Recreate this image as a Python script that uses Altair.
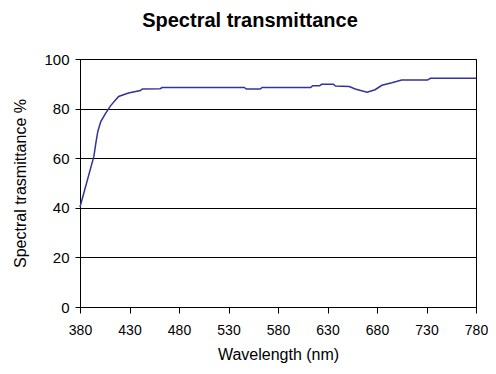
import altair as alt
import pandas as pd

wavelength = [380, 394, 396, 398, 401, 406, 411, 419, 429, 441, 443, 461, 463,
              546, 548, 562, 564, 613, 615, 622, 624, 636, 638, 652, 658, 670,
              678, 685, 695, 705, 731, 734, 780]
transmittance = [40.3, 60.7, 66.1, 70.8, 74.8, 78.2, 81.2, 84.9, 86.3, 87.3, 87.9, 88.0, 88.5,
                 88.5, 87.9, 87.9, 88.5, 88.5, 89.2, 89.2, 89.8, 89.8, 89.1, 88.9, 87.9, 86.6,
                 87.6, 89.4, 90.4, 91.5, 91.5, 92.2, 92.2]
x_ticks = [380, 430, 480, 530, 580, 630, 680, 730, 780]
y_ticks = [0, 20, 40, 60, 80, 100]

df = pd.DataFrame({"wl": wavelength, "t": transmittance})

font = "Liberation Sans"

chart = alt.Chart(df).mark_line(color="#333399", strokeWidth=1.5, interpolate="linear").encode(
    x=alt.X("wl:Q", scale=alt.Scale(domain=[380, 780], nice=False, zero=False),
            axis=alt.Axis(values=x_ticks, title="Wavelength (nm)", grid=False,
                          tickSize=6, labelPadding=10, titlePadding=9,
                          labelFontSize=14,
                          labelFlush=False, labelOverlap=False)),
    y=alt.Y("t:Q", scale=alt.Scale(domain=[0, 100], nice=False),
            axis=alt.Axis(values=y_ticks, title="Spectral trasmittance %", grid=True,
                          tickSize=5, labelPadding=6, titlePadding=15)),
).properties(
    width=396, height=248,
    autosize=alt.AutoSizeParams(type="none"),
    padding={"left": 72, "top": 51, "right": 12, "bottom": 59},
    title=alt.TitleParams("Spectral transmittance", font=font, fontSize=20,
                          fontWeight="bold", color="black", offset=21, anchor="middle",
                          dx=-28),
).configure_axis(
    labelFont=font, labelFontSize=15, labelColor="black",
    titleFont=font, titleFontSize=16, titleColor="black", titleFontWeight="normal",
    domainColor="black", tickColor="black", gridColor="black",
    domainWidth=1, tickWidth=1, gridWidth=1,
).configure_view(stroke="black", strokeWidth=1)

chart.save("out.html", embed_options={"renderer": "svg", "actions": False})
